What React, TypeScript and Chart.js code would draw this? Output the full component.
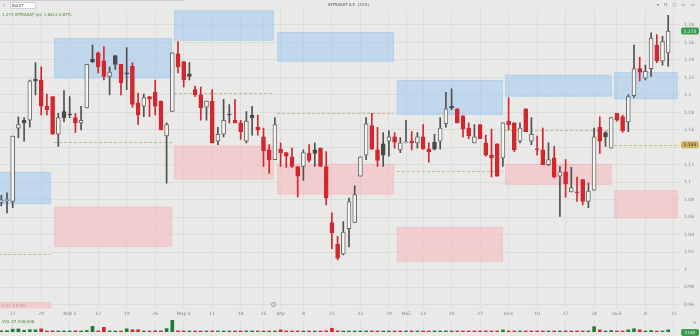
import React, { useEffect, useRef } from 'react';
import { Chart, registerables } from 'chart.js';

Chart.register(...registerables);

// ---- data (daily candles, index 0 = Jan 18) ----
const openPrices = [
  1.077, 1.079, 1.078, 1.162, 1.171, 1.171, 1.218, 1.217, 1.187, 1.198,
  1.155, 1.181, 1.178, 1.174, 1.168, 1.185, 1.241, 1.248, 1.239, 1.221,
  1.245, 1.235, 1.225, 1.233, 1.191, 1.187, 1.198, 1.203, 1.193, 1.153,
  1.181, 1.247, 1.238, 1.224, 1.206, 1.200, 1.186, 1.193, 1.147, 1.155,
  1.178, 1.171, 1.168, 1.147, 1.177, 1.163, 1.152, 1.137, 1.126, 1.138,
  1.134, 1.129, 1.118, 1.118, 1.133, 1.137, 1.139, 1.118, 1.054, 1.029,
  1.018, 1.047, 1.054, 1.107, 1.131, 1.165, 1.137, 1.144, 1.147, 1.152,
  1.137, 1.145, 1.147, 1.145, 1.152, 1.138, 1.146, 1.147, 1.167, 1.187,
  1.184, 1.176, 1.162, 1.145, 1.166, 1.145, 1.131, 1.144, 1.128, 1.170,
  1.168, 1.147, 1.184, 1.147, 1.138, 1.137, 1.120, 1.128, 1.107, 1.112,
  1.089, 1.0885, 1.103, 1.078, 1.091, 1.163, 1.157, 1.139, 1.179, 1.175,
  1.169, 1.199, 1.230, 1.219, 1.230, 1.257, 1.239, 1.248,
];
const highPrices = [
  1.085, 1.088, 1.153, 1.175, 1.174, 1.217, 1.237, 1.232, 1.201, 1.198,
  1.179, 1.205, 1.198, 1.179, 1.187, 1.235, 1.257, 1.249, 1.255, 1.232,
  1.245, 1.235, 1.254, 1.237, 1.202, 1.201, 1.198, 1.217, 1.193, 1.168,
  1.248, 1.261, 1.238, 1.237, 1.210, 1.209, 1.193, 1.206, 1.163, 1.195,
  1.189, 1.195, 1.171, 1.181, 1.187, 1.177, 1.162, 1.143, 1.174, 1.145,
  1.134, 1.139, 1.118, 1.137, 1.143, 1.145, 1.139, 1.135, 1.065, 1.038,
  1.055, 1.082, 1.096, 1.129, 1.174, 1.179, 1.163, 1.157, 1.159, 1.157,
  1.151, 1.171, 1.158, 1.157, 1.166, 1.145, 1.155, 1.174, 1.203, 1.207,
  1.184, 1.176, 1.168, 1.166, 1.166, 1.154, 1.161, 1.144, 1.168, 1.197,
  1.168, 1.168, 1.184, 1.174, 1.153, 1.162, 1.145, 1.141, 1.118, 1.126,
  1.117, 1.106, 1.103, 1.099, 1.162, 1.175, 1.158, 1.174, 1.179, 1.177,
  1.200, 1.257, 1.243, 1.234, 1.271, 1.269, 1.267, 1.291,
];
const lowPrices = [
  1.073, 1.065, 1.071, 1.151, 1.147, 1.163, 1.200, 1.177, 1.177, 1.155,
  1.141, 1.169, 1.174, 1.157, 1.160, 1.185, 1.237, 1.225, 1.217, 1.200,
  1.229, 1.200, 1.206, 1.186, 1.166, 1.175, 1.175, 1.177, 1.160, 1.099,
  1.181, 1.225, 1.209, 1.217, 1.198, 1.171, 1.171, 1.145, 1.143, 1.152,
  1.168, 1.168, 1.149, 1.145, 1.154, 1.154, 1.118, 1.110, 1.126, 1.118,
  1.117, 1.117, 1.083, 1.102, 1.123, 1.118, 1.118, 1.074, 1.024, 1.011,
  1.017, 1.026, 1.054, 1.107, 1.126, 1.138, 1.118, 1.118, 1.130, 1.139,
  1.134, 1.145, 1.137, 1.139, 1.138, 1.123, 1.137, 1.138, 1.163, 1.183,
  1.168, 1.152, 1.150, 1.145, 1.150, 1.130, 1.106, 1.107, 1.118, 1.160,
  1.135, 1.145, 1.158, 1.143, 1.131, 1.120, 1.119, 1.105, 1.061, 1.083,
  1.089, 1.078, 1.074, 1.071, 1.091, 1.133, 1.141, 1.139, 1.170, 1.157,
  1.158, 1.197, 1.216, 1.217, 1.221, 1.237, 1.234, 1.233,
];
const closePrices = [
  1.080, 1.080, 1.153, 1.166, 1.168, 1.216, 1.216, 1.187, 1.183, 1.155,
  1.174, 1.174, 1.177, 1.168, 1.171, 1.235, 1.238, 1.232, 1.221, 1.226,
  1.235, 1.214, 1.224, 1.189, 1.177, 1.197, 1.195, 1.187, 1.160, 1.166,
  1.248, 1.232, 1.217, 1.221, 1.200, 1.185, 1.193, 1.145, 1.155, 1.171,
  1.177, 1.168, 1.158, 1.170, 1.174, 1.160, 1.136, 1.126, 1.166, 1.134,
  1.130, 1.118, 1.107, 1.134, 1.125, 1.133, 1.118, 1.082, 1.042, 1.013,
  1.043, 1.078, 1.086, 1.129, 1.167, 1.138, 1.125, 1.131, 1.152, 1.146,
  1.145, 1.146, 1.145, 1.152, 1.138, 1.135, 1.138, 1.162, 1.184, 1.185,
  1.168, 1.161, 1.153, 1.152, 1.150, 1.131, 1.128, 1.107, 1.168, 1.166,
  1.137, 1.162, 1.158, 1.155, 1.137, 1.120, 1.126, 1.106, 1.112, 1.098,
  1.094, 1.088, 1.078, 1.090, 1.152, 1.147, 1.152, 1.174, 1.171, 1.159,
  1.198, 1.230, 1.226, 1.227, 1.265, 1.239, 1.261, 1.273,
];
const volumes = [
  60, 70, 150, 160, 90, 120, 110, 170, 50, 60,
  40, 50, 40, 60, 40, 80, 300, 50, 250, 40,
  50, 50, 170, 120, 120, 40, 50, 60, 60, 180,
  620, 60, 50, 40, 40, 40, 40, 50, 40, 40,
  40, 40, 50, 40, 40, 40, 50, 50, 40, 110,
  40, 40, 50, 40, 40, 40, 40, 60, 200, 60,
  40, 40, 40, 40, 50, 40, 40, 40, 40, 40,
  40, 40, 40, 40, 40, 40, 40, 50, 60, 40,
  40, 40, 40, 40, 40, 40, 40, 50, 110, 40,
  40, 40, 40, 40, 40, 40, 40, 40, 40, 40,
  40, 40, 40, 40, 280, 110, 40, 80, 40, 40,
  110, 170, 110, 40, 80, 40, 40, 110,
];

// date axis
const tickIndex = [2, 7, 12, 17, 22, 27, 32, 37, 42, 46, 49, 53, 58, 63, 68, 71, 74, 79, 84, 89, 94, 99, 104, 108, 113, 118];
const tickLabels = ['22', '29', 'Φεβ 5', '12', '19', '26', 'Μαρ 4', '11', '18', '25', 'Απρ', '8', '15', '22', '29', 'Μαΐ', '13', '20', '27', 'Ιουν', '10', '17', '24', 'Ιουλ', '8', '15'];
const priceTicks = [0.96, 0.98, 1.0, 1.02, 1.04, 1.06, 1.08, 1.1, 1.12, 1.14, 1.16, 1.18, 1.2, 1.22, 1.24, 1.26, 1.28];

// monthly zones
const zoneStart = [-0.5, 9.25, 30.3, 48.4, 69.4, 88.4, 107.5];
const zoneEnd = [8.7, 29.95, 47.8, 68.9, 88.0, 107.1, 118.7];
const supplyTop = [1.112, 1.265, 1.31, 1.272, 1.217, 1.223, 1.226];
const supplyBottom = [1.075, 1.219, 1.262, 1.238, 1.177, 1.198, 1.195];
const demandTop = [0.963, 1.072, 1.142, 1.121, 1.049, 1.121, 1.091];
const demandBottom = [0.93, 1.026, 1.103, 1.086, 1.009, 1.097, 1.059];
const pivotLevels = [1.018, 1.146, 1.202, 1.179, 1.113, 1.16, 1.143];

const BG = '#e9e9e7';
const GRID = '#dcdcda';
const RED = '#d3272d';
const DARK = '#4a4a4a';
const HOLLOW = '#f4f4f2';
const OUTLINE = '#6a6a6a';
const GREEN = '#1f7a35';

const X_MIN = -0.228;
const X_MAX = 119.07;

function isFilled(i: number) {
  return closePrices[i] < openPrices[i];
}
function isDown(i: number) {
  return i > 0 && closePrices[i] < closePrices[i - 1];
}
function bodyFill(i: number) {
  if (!isFilled(i)) return HOLLOW;
  return isDown(i) ? RED : DARK;
}
function bodyBorder(i: number) {
  if (!isFilled(i)) return OUTLINE;
  return isDown(i) ? RED : DARK;
}
function wickColor(i: number) {
  return isFilled(i) && isDown(i) ? RED : '#505050';
}

const zonePlugin = {
  id: 'zones',
  beforeDatasetsDraw(chart: any) {
    const { ctx, chartArea, scales } = chart;
    const x = scales.x;
    const y = scales.y;
    ctx.save();
    ctx.beginPath();
    ctx.rect(chartArea.left, chartArea.top, chartArea.right - chartArea.left, chartArea.bottom - chartArea.top);
    ctx.clip();
    const box = (x0: number, x1: number, t: number, b: number, fill: string, edge: string) => {
      const y0 = y.getPixelForValue(t);
      const y1 = y.getPixelForValue(b);
      ctx.fillStyle = fill;
      ctx.fillRect(x0, y0, x1 - x0, y1 - y0);
      ctx.setLineDash([2, 1]);
      ctx.strokeStyle = edge;
      ctx.lineWidth = 1;
      ctx.strokeRect(x0 + 0.5, y0 + 0.5, x1 - x0 - 1, y1 - y0 - 1);
    };
    zoneStart.forEach((s, k) => {
      const x0 = x.getPixelForValue(s);
      const x1 = x.getPixelForValue(zoneEnd[k]);
      box(x0, x1, supplyTop[k], supplyBottom[k], 'rgba(160,200,240,0.55)', 'rgba(150,190,235,0.45)');
      box(x0, x1, demandTop[k], demandBottom[k], 'rgba(245,188,194,0.6)', 'rgba(235,175,182,0.45)');
      const py = Math.round(y.getPixelForValue(pivotLevels[k])) + 0.5;
      ctx.setLineDash([3, 2]);
      ctx.strokeStyle = k === zoneStart.length - 1 ? 'rgba(200,190,100,0.9)' : 'rgba(195,170,130,0.8)';
      ctx.lineWidth = 1;
      ctx.beginPath();
      ctx.moveTo(x0, py);
      ctx.lineTo(x1, py);
      ctx.stroke();
    });
    ctx.restore();
  },
  afterDraw(chart: any) {
    const { ctx, chartArea, scales } = chart;
    const y = scales.y;
    const tag = (value: number, fill: string, color: string, text: string) => {
      const py = y.getPixelForValue(value);
      ctx.save();
      ctx.fillStyle = fill;
      ctx.beginPath();
      ctx.roundRect(chartArea.right + 1, py - 3.5, 18, 7, 2);
      ctx.fill();
      ctx.fillStyle = color;
      ctx.font = '4.5px "DejaVu Sans", sans-serif';
      ctx.textBaseline = 'middle';
      ctx.textAlign = 'center';
      ctx.fillText(text, chartArea.right + 10, py + 0.3);
      ctx.restore();
    };
    const last = closePrices[closePrices.length - 1];
    const piv = pivotLevels[pivotLevels.length - 1];
    tag(piv, '#cfb25e', '#3a3320', piv.toFixed(3));
    tag(last, '#3f9b54', '#e8f5e8', last.toFixed(3));
  },
};

export default function App() {
  const priceRef = useRef<HTMLCanvasElement>(null);
  const volRef = useRef<HTMLCanvasElement>(null);

  useEffect(() => {
    document.body.style.margin = '0';
    const idx = openPrices.map((_, i) => i);
    const tickFont = { size: 4.5, family: '"DejaVu Sans", sans-serif' };

    const price = new Chart(priceRef.current as HTMLCanvasElement, {
      type: 'bar',
      data: {
        datasets: [
          {
            label: 'body',
            data: idx.map((i) => ({ x: i, y: [openPrices[i], closePrices[i]] })) as any,
            backgroundColor: idx.map(bodyFill),
            borderColor: idx.map(bodyBorder),
            borderWidth: 1,
            borderSkipped: false,
            barThickness: 4,
            minBarLength: 1,
            grouped: false,
          } as any,
          {
            label: 'wick',
            data: idx.map((i) => ({ x: i, y: [lowPrices[i], highPrices[i]] })) as any,
            backgroundColor: idx.map(wickColor),
            borderWidth: 0,
            barThickness: 1,
            grouped: false,
          } as any,
        ],
      },
      options: {
        animation: false,
        responsive: false,
        maintainAspectRatio: false,
        events: [],
        layout: { padding: { top: 10, left: 0, right: 0, bottom: 0 } },
        plugins: { legend: { display: false }, tooltip: { enabled: false } },
        scales: {
          x: {
            type: 'linear',
            min: X_MIN,
            max: X_MAX,
            offset: false,
            afterBuildTicks: (scale: any) => {
              scale.ticks = tickIndex.map((v) => ({ value: v }));
            },
            ticks: {
              autoSkip: false,
              maxRotation: 0,
              padding: 2.5,
              font: tickFont,
              color: '#858585',
              callback: (_v: any, i: number) => tickLabels[i],
            },
            grid: { color: GRID, drawTicks: false, offset: false },
            border: { display: false },
          },
          y: {
            type: 'linear',
            position: 'right',
            min: 0.95543,
            max: 1.29714,
            afterBuildTicks: (scale: any) => {
              scale.ticks = priceTicks.map((v) => ({ value: v }));
            },
            afterFit: (scale: any) => {
              scale.width = 20;
            },
            ticks: {
              padding: 4,
              font: tickFont,
              color: '#858585',
              callback: (v: any) => String(parseFloat(Number(v).toFixed(2))),
            },
            grid: { color: GRID, drawTicks: false },
            border: { display: false },
          },
        },
      } as any,
      plugins: [zonePlugin],
    });

    const vol = new Chart(volRef.current as HTMLCanvasElement, {
      type: 'bar',
      data: {
        datasets: [
          {
            label: 'volume',
            data: idx.map((i) => ({ x: i, y: volumes[i] })) as any,
            backgroundColor: idx.map((i) => (isDown(i) ? RED : GREEN)),
            borderWidth: 0,
            barThickness: 3,
            minBarLength: 1,
          } as any,
        ],
      },
      options: {
        animation: false,
        responsive: false,
        maintainAspectRatio: false,
        events: [],
        layout: { padding: { top: 1, bottom: 4, left: 0, right: 0 } },
        plugins: { legend: { display: false }, tooltip: { enabled: false } },
        scales: {
          x: {
            type: 'linear',
            min: X_MIN,
            max: X_MAX,
            offset: false,
            afterBuildTicks: (scale: any) => {
              scale.ticks = tickIndex.map((v) => ({ value: v }));
            },
            ticks: { display: false },
            grid: { color: GRID, drawTicks: false, offset: false },
            border: { display: false },
          },
          y: {
            type: 'linear',
            position: 'right',
            min: 0,
            max: 640,
            afterFit: (scale: any) => {
              scale.width = 20;
            },
            ticks: { display: false },
            grid: { display: false, drawTicks: false },
            border: { display: false },
          },
        },
      } as any,
    });

    return () => {
      price.destroy();
      vol.destroy();
    };
  }, []);

  const tiny = { position: 'absolute' as const, whiteSpace: 'nowrap' as const, fontFamily: '"DejaVu Sans", sans-serif' };

  return (
    <div style={{ position: 'fixed', left: 0, top: 0, width: 700, height: 336, background: BG, overflow: 'hidden' }}>
      <canvas ref={priceRef} width={700} height={319} style={{ position: 'absolute', left: 0, top: 0, width: 700, height: 319 }} />
      <canvas ref={volRef} width={700} height={17} style={{ position: 'absolute', left: 0, top: 319, width: 700, height: 17 }} />
      <div style={{ position: 'absolute', left: 0, top: 0, width: 185, height: 1, background: '#cdcdcb' }} />
      <div style={{ ...tiny, left: 3, top: 1, fontSize: 6, color: '#666' }}>‹</div>
      <div style={{ ...tiny, left: 10, top: 2, width: 26, height: 7, background: '#fff', border: '1px solid #d3d3d1', boxSizing: 'border-box', fontSize: 4, lineHeight: '6px', paddingLeft: 1, color: '#444' }}>Bot27</div>
      <div style={{ ...tiny, left: 328, top: 2, fontSize: 4, color: '#555' }}>INTRAKAT A.E. (XXX)</div>
      <div style={{ ...tiny, left: 657, top: 2, fontSize: 4, color: '#666', letterSpacing: 2 }}>▾ H ▢ ▭ ▭</div>
      <div style={{ ...tiny, left: 2, top: 12, fontSize: 4, color: '#4d8a3d' }}>1.273 INTRAKAT (p): 1.6613 0.87%</div>
      <div style={{ ...tiny, left: 2, top: 303, fontSize: 4, color: '#d48a92' }}>1.11 4.6 8%</div>
      <div style={{ position: 'absolute', left: 271, top: 302, width: 5, height: 5, borderRadius: 3, border: '1px solid #999', boxSizing: 'border-box' }} />
      <div style={{ ...tiny, left: 2, top: 319, fontSize: 4, color: '#4d8a3d' }}>VOL 47,938,608</div>
      <div style={{ ...tiny, left: 693, top: 320, fontSize: 4, color: '#777' }}>✕</div>
      <div style={{ ...tiny, left: 681, top: 329, width: 18, height: 7, borderRadius: 2, background: '#3f9b54', color: '#e8f5e8', fontSize: 4, lineHeight: '7px', textAlign: 'center' }}>110K</div>
    </div>
  );
}
